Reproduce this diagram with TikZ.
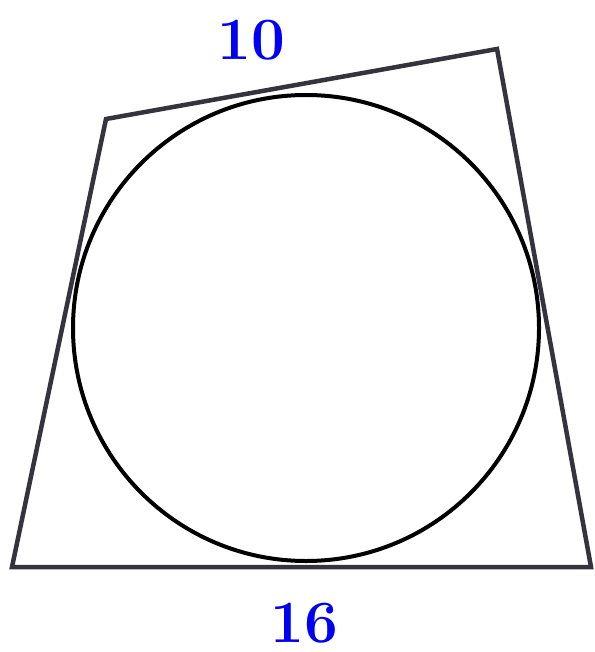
\documentclass[tikz,border=0pt]{standalone}
\usepackage{tikz}
\definecolor{edgegray}{RGB}{52,52,62}
\definecolor{labelblue}{RGB}{0,0,245}
\tikzset{side/.style={draw=edgegray, line width=4.5pt, line join=miter}}
\tikzset{incircle/.style={draw=black, line width=4pt}}
\tikzset{sidelabel/.style={text=labelblue, font=\fontsize{60}{66}\selectfont\bfseries, inner sep=0pt}}
\begin{document}
\begin{tikzpicture}[x=1pt, y=-1pt]
\useasboundingbox (0,0) rectangle (594,652);
% vertices of the quadrilateral
\coordinate (BL) at (12,567);
\coordinate (BR) at (591,567);
\coordinate (TR) at (497,49);
\coordinate (TL) at (106,119);
\coordinate (O) at (306,328);
\draw[side] (BL) -- (BR) -- (TR) -- (TL) -- cycle;
\draw[incircle] (O) circle (233);
% side lengths
\node[sidelabel] (top) at (251,40) {10};
\node[sidelabel] (bottom) at (304,623) {16};
\end{tikzpicture}
\end{document}
